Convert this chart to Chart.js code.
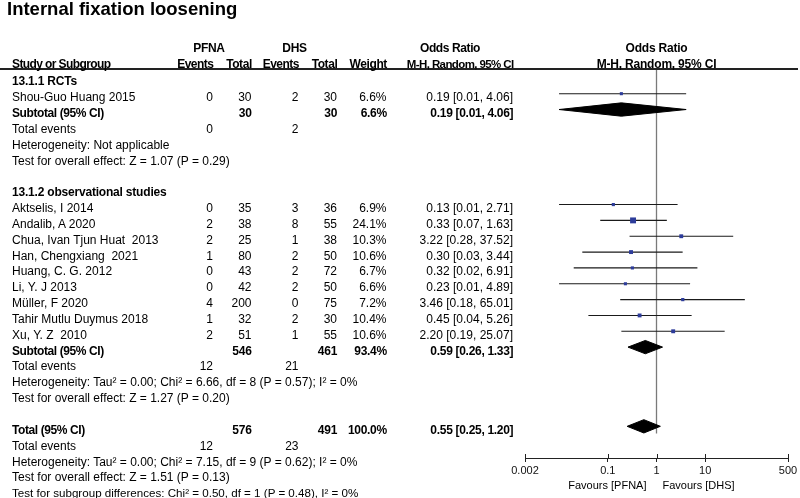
<!DOCTYPE html>
<html>
<head>
<meta charset="utf-8">
<script src="https://cdn.jsdelivr.net/npm/chart.js@4.4.1/dist/chart.umd.min.js"></script>
<style>
html,body{margin:0;padding:0;background:#fff;}
#wrap{position:relative;width:800px;height:498px;overflow:hidden;font-family:"Liberation Sans",Arial,sans-serif;color:#000;}
#c{position:absolute;left:0;top:0;}
.t{position:absolute;white-space:pre;font-size:12px;line-height:14px;height:14px;}
.b{font-weight:bold;}
#hline{position:absolute;left:0;top:68px;width:798px;height:2px;background:#222;}
</style>
</head>
<body>
<div id="wrap">
<canvas id="c" width="800" height="498"></canvas>
<div id="hline"></div>
</div>
<script>
// ---------- DATA ----------
const chartTitle = 'Internal fixation loosening';
const groupLabelA = 'PFNA';
const groupLabelB = 'DHS';

const studyNames = ['Shou-Guo Huang 2015','Aktselis, I 2014','Andalib, A 2020','Chua, Ivan Tjun Huat  2013','Han, Chengxiang  2021','Huang, C. G. 2012','Li, Y. J 2013','Müller, F 2020','Tahir Mutlu Duymus 2018','Xu, Y. Z  2010'];
const studyGroup = [0,1,1,1,1,1,1,1,1,1];
const eventsPFNA = [0,0,2,2,1,0,0,4,1,2];
const totalPFNA  = [30,35,38,25,80,43,42,200,32,51];
const eventsDHS  = [2,3,8,1,2,2,2,0,2,1];
const totalDHS   = [30,36,55,38,50,72,50,75,30,55];
const weightPct  = [6.6,6.9,24.1,10.3,10.6,6.7,6.6,7.2,10.4,10.6];
const orEst  = [0.19,0.13,0.33,3.22,0.30,0.32,0.23,3.46,0.45,2.20];
const orLow  = [0.01,0.01,0.07,0.28,0.03,0.02,0.01,0.18,0.04,0.19];
const orHigh = [4.06,2.71,1.63,37.52,3.44,6.91,4.89,65.01,5.26,25.07];

const subgroupNames = ['13.1.1 RCTs','13.1.2 observational studies'];
const subTotalPFNA  = [30,546];
const subTotalDHS   = [30,461];
const subWeight     = [6.6,93.4];
const subOR   = [0.19,0.59];
const subLow  = [0.01,0.26];
const subHigh = [4.06,1.33];
const subEventsPFNA = [0,12];
const subEventsDHS  = [2,21];
const subHetero = ['Heterogeneity: Not applicable','Heterogeneity: Tau\u00b2 = 0.00; Chi\u00b2 = 6.66, df = 8 (P = 0.57); I\u00b2 = 0%'];
const subEffect = ['Test for overall effect: Z = 1.07 (P = 0.29)','Test for overall effect: Z = 1.27 (P = 0.20)'];

const overallTotalPFNA = 576;
const overallTotalDHS = 491;
const overallWeight = 100.0;
const overallOR = [0.55, 0.25, 1.20];
const overallEvents = [12, 23];
const overallHetero = 'Heterogeneity: Tau\u00b2 = 0.00; Chi\u00b2 = 7.15, df = 9 (P = 0.62); I\u00b2 = 0%';
const overallEffect = 'Test for overall effect: Z = 1.51 (P = 0.13)';
const subgroupDiff = 'Test for subgroup differences: Chi\u00b2 = 0.50, df = 1 (P = 0.48), I\u00b2 = 0%';

const xTickValues = [0.002, 0.1, 1, 10, 500];
const xTickLabels = ['0.002','0.1','1','10','500'];
const favoursLeft = 'Favours [PFNA]';
const favoursRight = 'Favours [DHS]';

// ---------- ROW LAYOUT (derived from structure) ----------
let r = 0;
const studyRow = [], subRow = [], subHeadRow = [], subEvRow = [], subHetRow = [], subEffRow = [];
for (let g = 0; g < subgroupNames.length; g++) {
  subHeadRow[g] = r++;
  studyNames.forEach((n, i) => { if (studyGroup[i] === g) studyRow[i] = r++; });
  subRow[g] = r++;
  subEvRow[g] = r++;
  subHetRow[g] = r++;
  subEffRow[g] = r++;
  r++; // blank
}
const totRow = r++, totEvRow = r++, totHetRow = r++, totEffRow = r++, diffRow = r++;

const FONT = '"Liberation Sans", Arial, sans-serif';
const SQ = '#2d3c9a';
const DH = 0.42; // diamond half height (rows)

function diamond(est, lo, hi, row) {
  return [{x: lo, y: row}, {x: est, y: row - DH}, {x: hi, y: row}, {x: est, y: row + DH}, {x: lo, y: row}];
}

const datasets = [];
datasets.push({
  label: 'studies', data: orEst.map((v, i) => ({x: v, y: studyRow[i]})),
  pointStyle: 'rect', pointRadius: weightPct.map(w => 0.85 * Math.sqrt(w)),
  backgroundColor: SQ, borderColor: SQ, borderWidth: 0, showLine: false
});
for (let g = 0; g < subgroupNames.length; g++) {
  datasets.push({data: diamond(subOR[g], subLow[g], subHigh[g], subRow[g]), showLine: true, fill: 'shape',
    backgroundColor: '#000', borderColor: '#000', borderWidth: 1, pointRadius: 0, tension: 0});
}
datasets.push({data: diamond(overallOR[0], overallOR[1], overallOR[2], totRow), showLine: true, fill: 'shape',
  backgroundColor: '#000', borderColor: '#000', borderWidth: 1, pointRadius: 0, tension: 0});
studyNames.forEach((n, i) => {
  datasets.push({data: [{x: orLow[i], y: studyRow[i]}, {x: orHigh[i], y: studyRow[i]}], showLine: true,
    borderColor: '#1a1a1a', borderWidth: 1.1, pointRadius: 0, fill: false});
});
datasets.push({data: [{x: 1, y: -0.5}, {x: 1, y: totRow + 0.45}], showLine: true,
  borderColor: '#7a7a7a', borderWidth: 1.3, pointRadius: 0, fill: false});

const upTicks = {
  id: 'upTicks',
  afterDraw(chart) {
    const s = chart.scales.x, ctx = chart.ctx;
    ctx.save(); ctx.strokeStyle = '#222'; ctx.lineWidth = 1;
    s.ticks.forEach(t => {
      const x = Math.round(s.getPixelForValue(t.value)) + 0.5;
      ctx.beginPath(); ctx.moveTo(x, s.top - 4); ctx.lineTo(x, s.top); ctx.stroke();
    });
    ctx.restore();
  }
};

const chart = new Chart(document.getElementById('c'), {
  type: 'scatter',
  data: {datasets},
  options: {
    responsive: false, animation: false, devicePixelRatio: 1,
    layout: {padding: {left: 525, right: 12, top: 62, bottom: 0}},
    plugins: {legend: {display: false}, tooltip: {enabled: false}},
    scales: {
      x: {
        type: 'logarithmic', position: 'bottom', min: 0.002, max: 500, bounds: 'data',
        afterBuildTicks: s => { s.ticks = xTickValues.map(v => ({value: v})); },
        afterFit: s => { s.height = 40; },
        ticks: {autoSkip: false, maxRotation: 0, padding: 2, color: '#111', font: {family: FONT, size: 11},
          callback: (v, i) => xTickLabels[i]},
        grid: {display: true, drawOnChartArea: false, drawTicks: true, tickLength: 4, color: '#222', lineWidth: 1},
        border: {display: true, color: '#222', width: 1}
      },
      y: {type: 'linear', display: false, min: -1, max: 24, reverse: true}
    }
  },
  plugins: [upTicks]
});

// ---------- TEXT ----------
const wrap = document.getElementById('wrap');
const ys = chart.scales.y, xs = chart.scales.x;
const OFF = 3.5;
function ty(row) { return ys.getPixelForValue(row) + OFF; }
function txt(s, x, y, align, bold, size, ls) {
  const d = document.createElement('div');
  d.className = 't' + (bold ? ' b' : '');
  d.textContent = s;
  const fs = size || 12;
  d.style.fontSize = fs + 'px';
  const spacing = (ls !== undefined) ? ls : (bold ? -0.4 : 0);
  if (spacing) d.style.letterSpacing = spacing + 'px';
  d.style.top = (y - 7) + 'px';
  if (align === 'right') { d.style.right = (800 - x + (spacing < 0 ? spacing : 0)) + 'px'; d.style.textAlign = 'right'; }
  else if (align === 'center') { d.style.left = x + 'px'; d.style.transform = 'translateX(-50%)'; }
  else { d.style.left = x + 'px'; }
  wrap.appendChild(d);
  return d;
}
const C = {name: 12, evA: 213, totA: 251.5, evB: 298.5, totB: 337, w: 386.5, or: 513};
const fmtOR = (e, l, h) => e.toFixed(2) + ' [' + l.toFixed(2) + ', ' + h.toFixed(2) + ']';

// title
const tt = txt(chartTitle, 7, 9.5, 'left', true, 18.5, 0);
tt.style.lineHeight = '22px'; tt.style.height = '22px'; tt.style.top = '-1.9px';

// headers
txt(groupLabelA, 209, 48, 'center', true, 12, -0.3);
txt(groupLabelB, 294.5, 48, 'center', true, 12, -0.3);
txt('Odds Ratio', 450, 48, 'center', true, 12, -0.4);
txt('Odds Ratio', xs.getPixelForValue(1), 48, 'center', true, 12, -0.2);
txt('Study or Subgroup', C.name, 63.5, 'left', true, 12, -0.6);
txt('Events', C.evA, 63.5, 'right', true, 12, -0.5);
txt('Total', C.totA, 63.5, 'right', true, 12, -0.4);
txt('Events', C.evB, 63.5, 'right', true, 12, -0.5);
txt('Total', C.totB, 63.5, 'right', true, 12, -0.4);
txt('Weight', C.w, 63.5, 'right', true, 12, -0.4);
txt('M-H, Random, 95% CI', C.or, 63.5, 'right', true, 11.5, -0.6);
txt('M-H, Random, 95% CI', xs.getPixelForValue(1), 63.5, 'center', true, 12, -0.2);

for (let g = 0; g < subgroupNames.length; g++) {
  txt(subgroupNames[g], C.name, ty(subHeadRow[g]), 'left', true, 12, -0.2);
  studyNames.forEach((n, i) => {
    if (studyGroup[i] !== g) return;
    const y = ty(studyRow[i]);
    txt(n, C.name, y, 'left');
    txt(String(eventsPFNA[i]), C.evA, y, 'right');
    txt(String(totalPFNA[i]), C.totA, y, 'right');
    txt(String(eventsDHS[i]), C.evB, y, 'right');
    txt(String(totalDHS[i]), C.totB, y, 'right');
    txt(weightPct[i].toFixed(1) + '%', C.w, y, 'right');
    txt(fmtOR(orEst[i], orLow[i], orHigh[i]), C.or, y, 'right');
  });
  let y = ty(subRow[g]);
  txt('Subtotal (95% CI)', C.name, y, 'left', true);
  txt(String(subTotalPFNA[g]), C.totA, y, 'right', true, 12, -0.2);
  txt(String(subTotalDHS[g]), C.totB, y, 'right', true, 12, -0.2);
  txt(subWeight[g].toFixed(1) + '%', C.w, y, 'right', true, 12, -0.3);
  txt(fmtOR(subOR[g], subLow[g], subHigh[g]), C.or, y, 'right', true, 12, -0.3);
  y = ty(subEvRow[g]);
  txt('Total events', C.name, y, 'left');
  txt(String(subEventsPFNA[g]), C.evA, y, 'right');
  txt(String(subEventsDHS[g]), C.evB, y, 'right');
  txt(subHetero[g], C.name, ty(subHetRow[g]), 'left');
  txt(subEffect[g], C.name, ty(subEffRow[g]), 'left');
}
let y = ty(totRow);
txt('Total (95% CI)', C.name, y, 'left', true);
txt(String(overallTotalPFNA), C.totA, y, 'right', true, 12, -0.2);
txt(String(overallTotalDHS), C.totB, y, 'right', true, 12, -0.2);
txt(overallWeight.toFixed(1) + '%', C.w, y, 'right', true, 12, -0.3);
txt(fmtOR(overallOR[0], overallOR[1], overallOR[2]), C.or, y, 'right', true, 12, -0.3);
y = ty(totEvRow);
txt('Total events', C.name, y, 'left');
txt(String(overallEvents[0]), C.evA, y, 'right');
txt(String(overallEvents[1]), C.evB, y, 'right');
txt(overallHetero, C.name, ty(totHetRow), 'left');
txt(overallEffect, C.name, ty(totEffRow), 'left');
txt(subgroupDiff, C.name, ty(diffRow), 'left', false, 11.6);

const p1 = xs.getPixelForValue(1);
txt(favoursLeft, p1 - 10, 485, 'right', false, 11);
txt(favoursRight, p1 + 6, 485, 'left', false, 11);
</script>
</body>
</html>
